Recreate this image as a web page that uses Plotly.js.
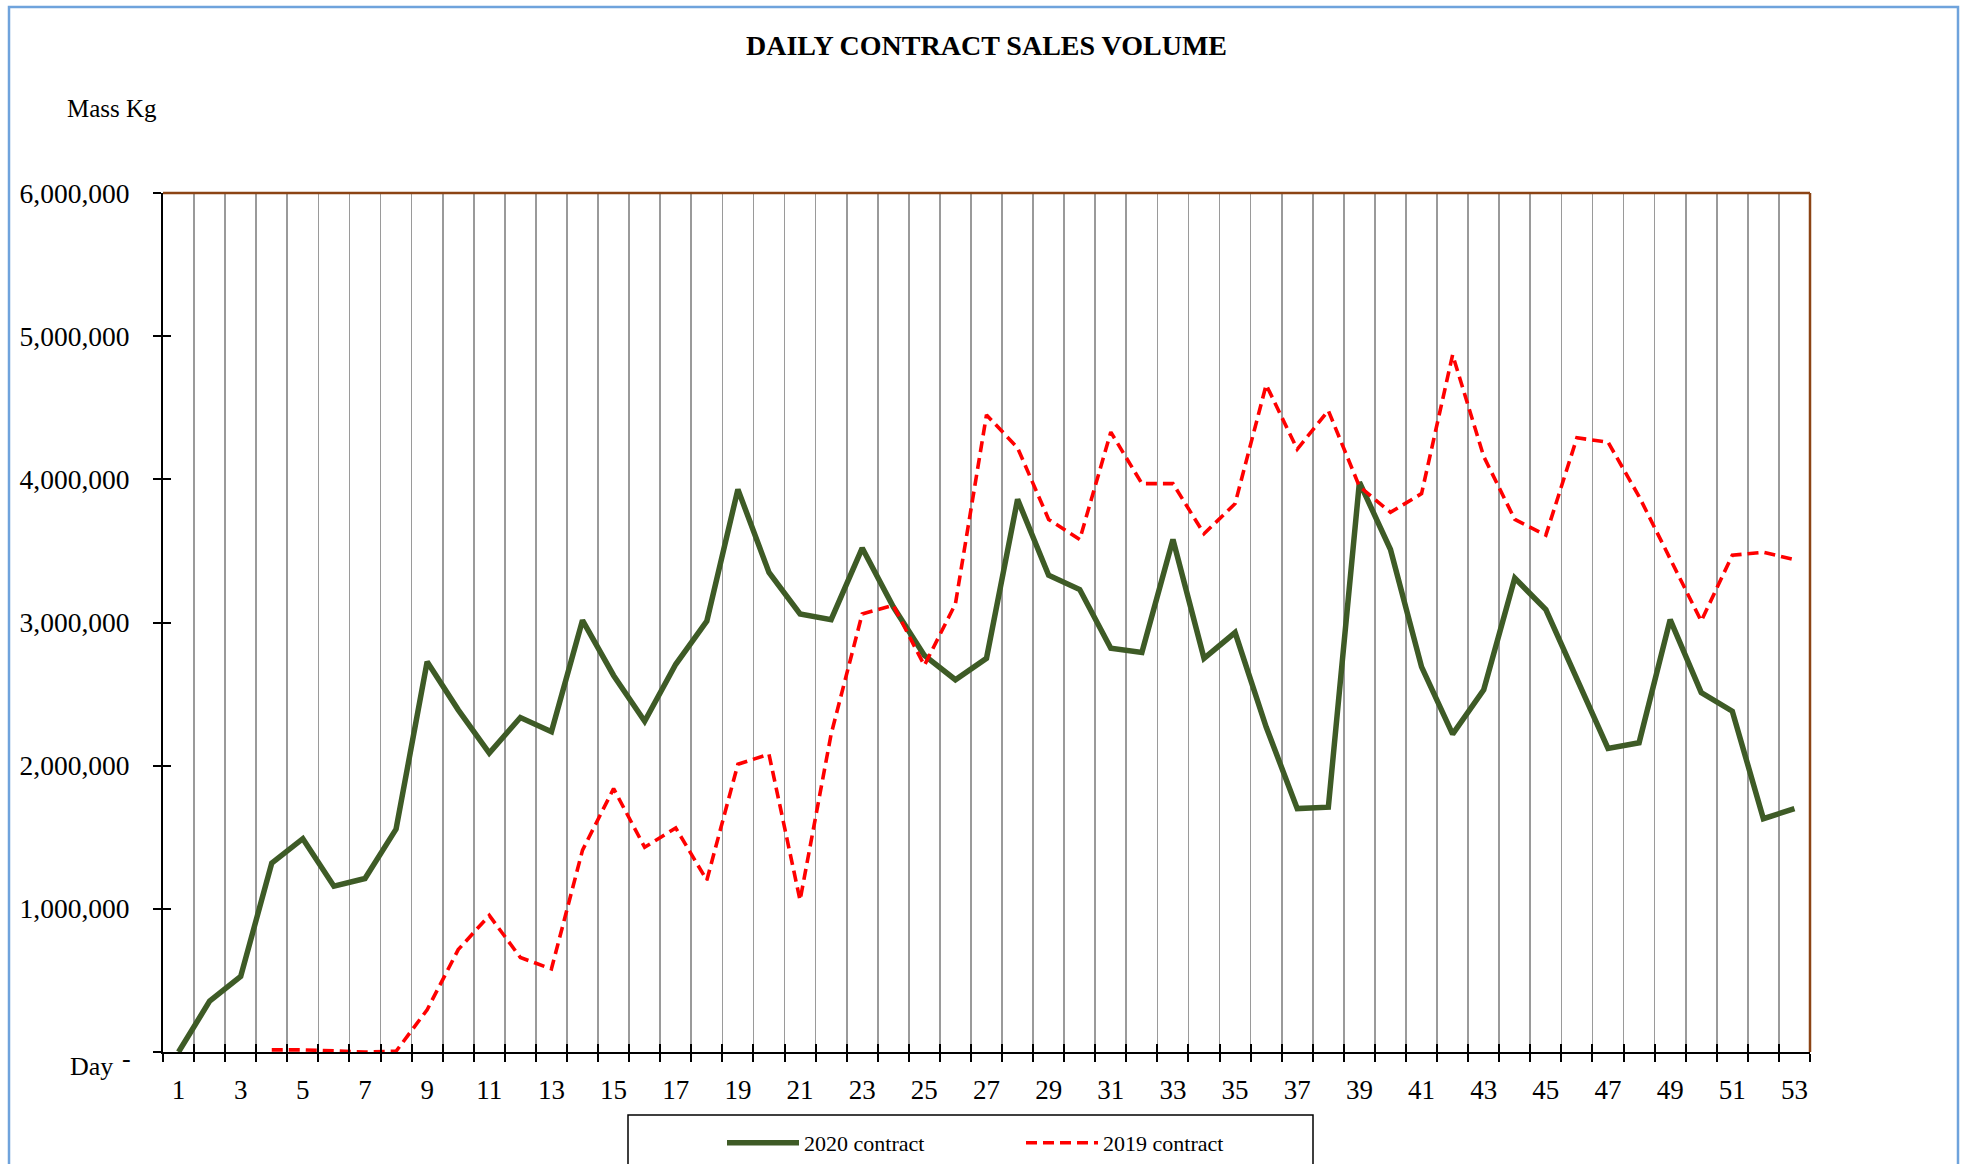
<!DOCTYPE html>
<html>
<head>
<meta charset="utf-8">
<script src="https://cdn.plot.ly/plotly-3.0.1.min.js"></script>
<style>
  html, body { margin: 0; padding: 0; background: #ffffff; }
  #chart { width: 1967px; height: 1164px; }
</style>
</head>
<body>
<div id="chart"></div>
<script>
// ---------------- data ----------------
const days = [1,2,3,4,5,6,7,8,9,10,11,12,13,14,15,16,17,18,19,20,21,22,23,24,25,26,27,
              28,29,30,31,32,33,34,35,36,37,38,39,40,41,42,43,44,45,46,47,48,49,50,51,52,53];

const contract2020 = [0, 355000, 528000, 1320000, 1490000, 1158000, 1212000, 1557000, 2725000, 2390000,
  2088000, 2336000, 2237000, 3015000, 2630000, 2310000, 2708000, 3010000, 3930000, 3350000,
  3060000, 3020000, 3520000, 3110000, 2770000, 2600000, 2750000, 3860000, 3330000, 3230000,
  2820000, 2790000, 3580000, 2750000, 2930000, 2270000, 1700000, 1710000, 3980000, 3510000,
  2690000, 2220000, 2530000, 3310000, 3090000, 2610000, 2120000, 2160000, 3020000, 2510000,
  2380000, 1630000, 1700000];

const contract2019 = [null, null, null, 15000, 15000, 8000, 0, 5000, 295000, 715000,
  954000, 660000, 580000, 1410000, 1840000, 1430000, 1565000, 1200000, 2010000, 2080000,
  1060000, 2220000, 3060000, 3120000, 2700000, 3130000, 4450000, 4220000, 3720000, 3580000,
  4330000, 3970000, 3970000, 3620000, 3830000, 4660000, 4210000, 4480000, 3950000, 3770000,
  3900000, 4870000, 4160000, 3720000, 3610000, 4290000, 4260000, 3880000, 3440000, 3010000,
  3470000, 3490000, 3440000];

const seriesNames = ['2020 contract', '2019 contract'];
const xTickLabels = ['1','3','5','7','9','11','13','15','17','19','21','23','25','27','29','31',
                     '33','35','37','39','41','43','45','47','49','51','53'];
const yTickValues = [0, 1000000, 2000000, 3000000, 4000000, 5000000, 6000000];
const yTickLabels = ['', '1,000,000', '2,000,000', '3,000,000', '4,000,000', '5,000,000', '6,000,000'];
const chartTitle = 'DAILY CONTRACT SALES VOLUME';
const yAxisLabel = 'Mass Kg';
const xAxisLabel = 'Day';
const zeroLabel = '-';

// ---------------- geometry helpers (layout only) ----------------
const W = 1967, H = 1164;
const M = { l: 163, r: 157, t: 193, b: 112, autoexpand: false };
const PW = W - M.l - M.r, PH = H - M.t - M.b;
const px = x => (x - M.l) / PW;
const py = y => (H - M.b - y) / PH;

const FONT = 'Liberation Serif, Times New Roman, serif';
const labelVals = xTickLabels.map(Number);
const boundaries = [days[0] - 0.5].concat(days.map(d => d + 0.5));
const xRange = [days[0] - 0.5, days[days.length - 1] + 0.5];

const traces = [
  {
    x: days, y: contract2020, name: seriesNames[0], type: 'scatter', mode: 'lines',
    line: { color: '#3E5B26', width: 5.5 }, hoverinfo: 'x+y'
  },
  {
    x: days, y: contract2019, name: seriesNames[1], type: 'scatter', mode: 'lines',
    line: { color: '#FF0000', width: 3.6, dash: '11px,6px' }, connectgaps: false, hoverinfo: 'x+y'
  },
  { x: [], y: [], xaxis: 'x2', yaxis: 'y2', showlegend: false, hoverinfo: 'skip', type: 'scatter' }
];

const layout = {
  width: W, height: H,
  margin: M,
  paper_bgcolor: '#ffffff', plot_bgcolor: '#ffffff',
  font: { family: FONT, color: '#000000', size: 26 },
  showlegend: true,
  title: {
    text: '<b>' + chartTitle + '</b>',
    font: { family: FONT, size: 28, color: '#000000' },
    x: 0.5, xref: 'paper', xanchor: 'center',
    y: 1 - 45 / H, yref: 'container', yanchor: 'middle'
  },
  xaxis: {
    range: xRange, zeroline: false,
    tickmode: 'array', tickvals: labelVals, ticktext: xTickLabels, ticks: '',
    showgrid: false, ticklabelstandoff: 13,
    tickfont: { family: FONT, size: 27, color: '#000' },
    showline: true, linecolor: '#000000', linewidth: 2,
    minor: {
      tickmode: 'array', tickvals: boundaries, ticks: 'outside', ticklen: 8, tickwidth: 2,
      tickcolor: '#000000', showgrid: true, gridcolor: '#9a9a9a', gridwidth: 1.7
    },
    fixedrange: true
  },
  xaxis2: {
    overlaying: 'x', anchor: 'y', side: 'bottom', range: xRange,
    tickmode: 'array', tickvals: boundaries, ticks: 'inside', ticklen: 8, tickwidth: 2,
    tickcolor: '#000000', showticklabels: false, showgrid: false, showline: false, zeroline: false
  },
  yaxis: {
    range: [0, 6000000], zeroline: false,
    tickmode: 'array', tickvals: yTickValues, ticktext: yTickLabels,
    ticks: 'outside', ticklen: 8, tickwidth: 2, tickcolor: '#000000',
    ticklabelstandoff: 18,
    tickfont: { family: FONT, size: 27.5, color: '#000' },
    showgrid: false, showline: true, linecolor: '#000000', linewidth: 2,
    fixedrange: true
  },
  yaxis2: {
    overlaying: 'y', anchor: 'x', side: 'left', range: [0, 6000000],
    tickmode: 'array', tickvals: yTickValues, ticks: 'inside', ticklen: 8, tickwidth: 2,
    tickcolor: '#000000', showticklabels: false, showgrid: false, showline: false, zeroline: false
  },
  legend: {
    orientation: 'h', x: px(722), xanchor: 'left', y: py(1143), yanchor: 'middle',
    font: { family: FONT, size: 22, color: '#000' },
    bgcolor: 'rgba(0,0,0,0)', borderwidth: 0,
    entrywidth: 212, entrywidthmode: 'pixels', itemwidth: 72
  },
  annotations: [
    { text: yAxisLabel, xref: 'paper', yref: 'paper', x: px(112), y: py(109),
      xanchor: 'center', yanchor: 'middle', showarrow: false, font: { family: FONT, size: 25 } },
    { text: xAxisLabel, xref: 'paper', yref: 'paper', x: px(91), y: py(1066),
      xanchor: 'center', yanchor: 'middle', showarrow: false, font: { family: FONT, size: 26 } },
    { text: zeroLabel, xref: 'paper', yref: 'paper', x: px(126), y: py(1058),
      xanchor: 'center', yanchor: 'middle', showarrow: false, font: { family: FONT, size: 26 } }
  ],
  shapes: [
    { type: 'rect', xref: 'paper', yref: 'paper', x0: px(9), x1: px(1958), y0: py(7), y1: py(1185),
      line: { color: '#6FA3DC', width: 2.5 }, fillcolor: 'rgba(0,0,0,0)', layer: 'below' },
    { type: 'line', xref: 'paper', yref: 'paper', x0: 0, x1: 1, y0: 1, y1: 1,
      line: { color: '#8C4414', width: 2.5 } },
    { type: 'line', xref: 'paper', yref: 'paper', x0: 1, x1: 1, y0: 0, y1: 1,
      line: { color: '#8C4414', width: 2.5 } },
    { type: 'rect', xref: 'paper', yref: 'paper', x0: px(628), x1: px(1313), y0: py(1115), y1: py(1190),
      line: { color: '#000000', width: 1.5 }, fillcolor: 'rgba(0,0,0,0)' }
  ]
};

Plotly.newPlot('chart', traces, layout, { displayModeBar: false, staticPlot: true });
</script>
</body>
</html>
